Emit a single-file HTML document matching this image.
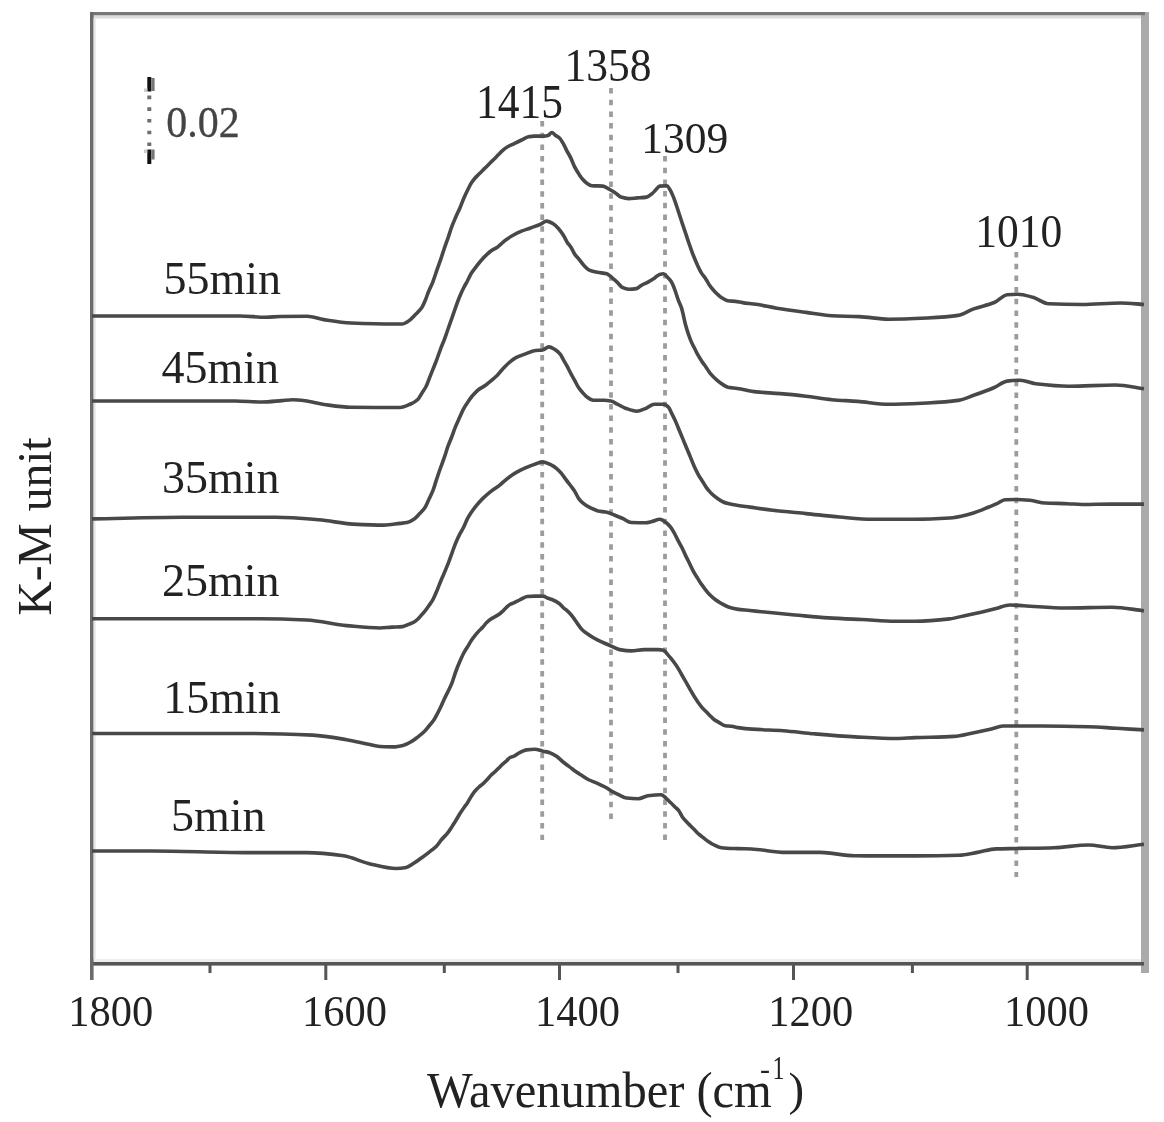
<!DOCTYPE html><html><head><meta charset="utf-8"><style>html,body{margin:0;padding:0;background:#fff;}svg{display:block;}text{font-family:"Liberation Serif",serif;stroke-width:0px;}svg{will-change:transform;}</style></head><body>
<svg width="1164" height="1122" viewBox="0 0 1164 1122">
<rect width="1164" height="1122" fill="#fff"/>
<rect x="1141" y="12" width="8" height="961" fill="#aaa"/>
<rect x="90" y="15" width="1051" height="3.5" fill="#ddd"/>
<rect x="90" y="12" width="1055" height="3.2" fill="#777"/>
<rect x="93" y="959" width="1048" height="3" fill="#eee"/>
<rect x="90" y="962" width="1054" height="3.6" fill="#555"/>
<rect x="90" y="12" width="3.6" height="968" fill="#6b6b6b"/>
<rect x="93.6" y="18" width="2" height="941" fill="#e4e4e4"/>
<rect x="324.3" y="964" width="3" height="16" fill="#555"/>
<rect x="558.0" y="964" width="3" height="16" fill="#555"/>
<rect x="792.0" y="964" width="3" height="16" fill="#555"/>
<rect x="1025.7" y="964" width="3" height="16" fill="#555"/>
<rect x="208.5" y="964" width="3" height="9" fill="#555"/>
<rect x="442.8" y="964" width="3" height="9" fill="#555"/>
<rect x="676.5" y="964" width="3" height="9" fill="#555"/>
<rect x="910.9" y="964" width="3" height="9" fill="#555"/>
<line x1="542.2" y1="121" x2="542.2" y2="840" stroke="#9c9c9c" stroke-width="3.8" stroke-dasharray="5.5,6.2"/>
<line x1="611.0" y1="88" x2="611.0" y2="821" stroke="#9c9c9c" stroke-width="3.8" stroke-dasharray="5.5,6.2"/>
<line x1="665.0" y1="156" x2="665.0" y2="843" stroke="#9c9c9c" stroke-width="3.8" stroke-dasharray="5.5,6.2"/>
<line x1="1016.3" y1="252" x2="1016.3" y2="877" stroke="#9c9c9c" stroke-width="3.8" stroke-dasharray="5.5,6.2"/>
<line x1="149.3" y1="95.6" x2="149.3" y2="148" stroke="#6e6e6e" stroke-width="4" stroke-dasharray="3.6,8.1"/>
<rect x="147.3" y="77" width="4" height="14.5" fill="#111"/>
<rect x="151.3" y="78" width="3.3" height="13" fill="#777"/>
<rect x="144" y="88.5" width="3.3" height="3.5" fill="#ccc"/>
<rect x="147.3" y="149.5" width="4" height="14.5" fill="#111"/>
<rect x="151.3" y="149.5" width="3.3" height="10" fill="#777"/>
<rect x="144" y="149.5" width="3.3" height="3.5" fill="#ccc"/>
<path d="M92.0,316.0 C141.3,316.0 190.7,316.0 240.0,316.0 C248.7,316.0 257.3,317.3 266.0,317.3 C270.7,317.3 275.3,316.6 280.0,316.5 C289.0,316.3 298.0,316.2 307.0,316.2 C312.6,316.2 318.1,318.7 323.7,319.6 C332.8,321.0 341.9,322.6 351.0,323.0 C365.7,323.6 380.3,324.0 395.0,324.0 C397.3,324.0 399.7,324.0 402.0,324.0 C404.7,324.0 407.4,321.8 410.1,319.9 C411.4,319.0 412.8,317.2 414.1,315.9 C415.5,314.5 416.8,313.3 418.2,311.8 C419.4,310.6 420.5,309.5 421.7,307.8 C422.8,306.1 424.0,303.4 425.1,300.8 C426.3,298.1 427.4,294.3 428.6,291.5 C430.0,288.2 431.3,285.8 432.7,282.3 C434.0,278.9 435.4,274.5 436.7,270.7 C438.1,266.8 439.4,263.1 440.8,259.1 C441.9,255.8 443.1,252.0 444.2,248.7 C445.6,244.7 446.9,241.1 448.3,237.1 C449.5,233.7 450.6,229.8 451.8,226.7 C453.1,223.1 454.5,220.1 455.8,217.0 C457.1,213.9 458.5,211.3 459.8,208.2 C461.0,205.3 462.3,201.9 463.5,199.0 C464.8,196.0 466.1,193.1 467.4,190.5 C468.7,187.9 470.0,185.1 471.3,183.1 C472.6,181.1 473.8,179.5 475.1,178.0 C476.4,176.5 477.7,175.4 479.0,174.1 C480.3,172.8 481.6,171.6 482.9,170.3 C484.2,169.0 485.4,167.7 486.7,166.4 C488.0,165.1 489.3,163.8 490.6,162.5 C491.9,161.2 493.2,160.0 494.5,158.7 C495.8,157.4 497.0,156.1 498.3,154.8 C499.6,153.5 500.9,152.1 502.2,150.9 C503.5,149.7 504.8,148.5 506.1,147.7 C508.7,146.0 511.2,145.1 513.8,143.8 C516.4,142.5 518.9,141.2 521.5,140.0 C523.9,138.9 526.2,137.3 528.6,136.8 C530.3,136.5 532.1,136.1 533.8,136.1 C537.2,136.1 540.7,136.1 544.1,136.1 C545.4,136.1 546.7,135.8 548.0,135.5 C549.3,135.2 550.5,132.5 551.8,132.5 C553.1,132.5 554.4,134.6 555.7,135.5 C557.0,136.4 558.2,136.8 559.5,138.0 C560.8,139.2 562.1,141.6 563.4,143.8 C564.5,145.6 565.5,148.2 566.6,150.3 C567.9,152.8 569.2,154.8 570.5,157.4 C571.8,160.0 573.1,163.8 574.4,166.4 C575.9,169.4 577.4,171.8 578.9,174.1 C580.2,176.0 581.4,177.9 582.7,179.3 C584.0,180.8 585.3,182.2 586.6,183.1 C588.3,184.3 590.1,185.6 591.8,185.7 C595.5,186.0 599.2,185.8 602.9,186.1 C605.0,186.3 607.2,188.1 609.3,189.3 C611.5,190.5 613.6,191.7 615.8,193.2 C617.5,194.3 619.2,196.6 620.9,197.1 C623.5,197.9 626.1,198.6 628.7,198.6 C631.7,198.6 634.7,198.1 637.7,197.9 C640.7,197.7 643.7,197.6 646.7,197.1 C648.4,196.8 650.2,195.2 651.9,193.8 C653.2,192.8 654.4,191.3 655.7,190.0 C657.0,188.7 658.3,186.3 659.6,186.1 C662.0,185.8 664.3,185.7 666.7,185.7 C668.0,185.7 669.2,188.5 670.5,190.6 C671.8,192.7 673.1,196.2 674.4,199.6 C675.7,203.0 677.0,207.3 678.3,211.2 C679.6,215.0 680.8,219.0 682.1,222.8 C683.4,226.7 684.7,230.5 686.0,234.4 C687.3,238.3 688.6,242.3 689.9,246.0 C691.2,249.6 692.4,253.1 693.7,256.3 C695.0,259.6 696.3,262.6 697.6,265.4 C698.9,268.2 700.2,271.0 701.5,273.1 C702.8,275.1 704.0,276.3 705.3,278.2 C706.6,280.1 707.9,282.8 709.2,284.7 C710.5,286.6 711.8,288.3 713.1,289.8 C714.4,291.3 715.6,292.5 716.9,293.7 C718.4,295.1 719.9,296.6 721.4,297.6 C723.6,299.0 725.7,300.5 727.9,300.8 C730.5,301.2 733.0,301.1 735.6,301.4 C737.9,301.6 740.2,302.3 742.5,302.6 C747.1,303.3 751.6,303.6 756.2,304.3 C763.1,305.3 769.9,307.1 776.8,308.2 C786.5,309.8 796.3,311.1 806.0,312.4 C814.6,313.6 823.2,315.4 831.8,315.8 C841.0,316.2 850.1,316.2 859.3,316.6 C869.1,317.0 878.9,319.2 888.7,319.2 C901.6,319.2 914.4,318.6 927.3,318.0 C937.6,317.5 947.9,317.0 958.2,315.4 C963.4,314.6 968.5,310.8 973.7,308.9 C980.6,306.4 987.4,305.4 994.3,302.5 C998.6,300.7 1002.9,295.1 1007.2,294.7 C1010.6,294.4 1014.1,294.2 1017.5,294.2 C1022.7,294.2 1027.8,295.9 1033.0,297.3 C1038.2,298.7 1043.3,303.6 1048.5,303.8 C1059.7,304.3 1070.8,304.5 1082.0,304.5 C1094.9,304.5 1107.7,303.0 1120.6,303.0 C1128.4,303.0 1136.2,304.0 1144.0,304.5" fill="none" stroke="#484848" stroke-width="3.6" stroke-linejoin="round" stroke-linecap="butt"/>
<path d="M92.0,401.0 C139.7,401.0 187.3,401.0 235.0,401.0 C244.0,401.0 253.0,402.0 262.0,402.0 C268.7,402.0 275.3,401.1 282.0,400.6 C285.7,400.3 289.3,399.8 293.0,399.8 C297.0,399.8 301.0,400.3 305.0,400.8 C311.3,401.5 317.7,403.6 324.0,404.5 C333.0,405.7 342.0,407.2 351.0,407.3 C367.3,407.4 383.7,407.5 400.0,407.5 C403.6,407.5 407.1,405.6 410.7,404.0 C413.1,403.0 415.4,401.7 417.8,399.5 C419.3,398.1 420.8,394.7 422.3,392.4 C423.5,390.6 424.6,389.2 425.8,387.0 C427.0,384.7 428.2,381.1 429.4,378.1 C430.6,375.1 431.8,372.2 433.0,369.2 C434.2,366.3 435.3,363.4 436.5,360.3 C438.0,356.3 439.5,351.7 441.0,347.8 C442.2,344.7 443.4,342.1 444.6,338.9 C445.6,336.1 446.7,332.9 447.7,330.0 C449.1,326.1 450.4,322.3 451.8,318.4 C453.1,314.6 454.5,310.5 455.8,306.8 C457.1,303.1 458.5,299.5 459.8,296.3 C461.1,293.2 462.4,290.4 463.7,287.8 C464.9,285.3 466.2,283.3 467.4,281.0 C468.7,278.5 470.0,275.4 471.3,273.3 C472.6,271.3 473.8,269.8 475.1,268.1 C476.4,266.4 477.7,264.6 479.0,263.0 C480.3,261.4 481.6,259.9 482.9,258.5 C484.2,257.1 485.4,255.8 486.7,254.6 C488.2,253.2 489.7,251.8 491.2,250.7 C493.4,249.2 495.5,248.4 497.7,246.9 C499.2,245.8 500.7,244.3 502.2,243.0 C503.5,241.9 504.8,240.7 506.1,239.8 C508.4,238.1 510.8,236.6 513.1,235.3 C515.7,233.8 518.3,232.5 520.9,231.4 C523.9,230.1 526.9,229.3 529.9,228.2 C533.3,226.9 536.8,225.8 540.2,224.3 C542.3,223.4 544.5,221.1 546.6,221.1 C548.8,221.1 550.9,222.5 553.1,223.7 C554.8,224.7 556.5,226.4 558.2,228.2 C559.9,230.1 561.7,232.6 563.4,235.3 C564.7,237.3 566.0,240.4 567.3,242.4 C568.6,244.4 569.8,245.5 571.1,247.5 C572.4,249.5 573.7,252.8 575.0,254.6 C576.3,256.4 577.6,257.5 578.9,259.1 C580.6,261.2 582.3,263.8 584.0,265.6 C585.7,267.4 587.5,269.4 589.2,270.1 C591.9,271.3 594.6,271.8 597.3,272.3 C600.5,272.9 603.6,272.9 606.8,273.7 C608.5,274.2 610.2,276.2 611.9,277.6 C613.6,279.0 615.4,280.5 617.1,282.1 C618.8,283.7 620.5,286.5 622.2,287.3 C624.4,288.3 626.5,289.2 628.7,289.2 C631.3,289.2 633.8,289.0 636.4,288.6 C638.1,288.4 639.8,286.3 641.5,285.3 C643.7,284.1 645.8,283.3 648.0,282.1 C650.1,280.9 652.3,279.6 654.4,278.2 C656.1,277.0 657.9,274.9 659.6,274.4 C660.9,274.0 662.2,273.7 663.5,273.7 C664.8,273.7 666.0,275.7 667.3,277.0 C668.6,278.3 669.9,279.5 671.2,281.5 C672.3,283.1 673.3,285.9 674.4,288.6 C675.7,291.9 677.0,296.8 678.3,300.2 C679.4,303.0 680.4,304.7 681.5,307.9 C682.9,312.2 684.4,320.8 685.8,325.8 C687.6,332.0 689.4,337.4 691.2,341.6 C692.3,344.1 693.3,345.9 694.4,348.0 C695.5,350.1 696.5,352.5 697.6,354.4 C698.9,356.8 700.3,358.9 701.6,360.9 C702.9,362.9 704.3,364.6 705.6,366.5 C707.2,368.8 708.8,371.8 710.4,373.7 C712.6,376.3 714.7,378.3 716.9,380.1 C719.0,381.9 721.2,383.6 723.3,384.9 C724.9,385.9 726.5,386.9 728.1,387.3 C731.2,388.0 734.2,388.0 737.3,388.5 C743.6,389.4 749.9,391.3 756.2,391.9 C764.2,392.7 772.3,392.9 780.3,393.6 C788.9,394.3 797.4,395.2 806.0,396.2 C814.6,397.2 823.2,398.9 831.8,399.7 C840.4,400.5 849.0,400.7 857.6,401.4 C868.0,402.2 878.3,404.3 888.7,404.3 C901.6,404.3 914.4,403.6 927.3,403.0 C937.6,402.5 947.9,401.9 958.2,400.4 C963.4,399.7 968.5,397.1 973.7,395.3 C980.6,392.9 987.4,390.5 994.3,387.5 C998.6,385.6 1002.9,381.6 1007.2,381.1 C1011.5,380.6 1015.8,380.3 1020.1,380.3 C1025.3,380.3 1030.4,383.1 1035.6,383.7 C1046.7,385.0 1057.9,386.2 1069.0,386.2 C1084.5,386.2 1100.0,385.0 1115.5,385.0 C1125.0,385.0 1134.5,387.5 1144.0,388.8" fill="none" stroke="#484848" stroke-width="3.6" stroke-linejoin="round" stroke-linecap="butt"/>
<path d="M92.0,518.9 C122.3,518.4 152.5,517.3 182.8,517.3 C213.7,517.3 244.7,517.3 275.6,517.3 C290.0,517.3 304.5,518.6 318.9,519.8 C330.2,520.7 341.6,523.5 352.9,524.1 C363.2,524.6 373.5,525.1 383.8,525.1 C389.2,525.1 394.6,524.0 400.0,523.4 C402.4,523.1 404.7,523.0 407.1,522.5 C409.5,522.0 411.9,520.5 414.3,518.9 C416.1,517.7 417.8,515.5 419.6,513.6 C421.4,511.7 423.2,510.1 425.0,507.4 C426.2,505.6 427.3,502.7 428.5,500.2 C430.0,497.0 431.5,494.2 433.0,490.4 C434.2,487.4 435.3,483.2 436.5,479.7 C437.7,476.1 438.9,472.4 440.1,469.0 C441.6,464.7 443.1,461.0 444.6,456.6 C445.8,453.2 446.9,449.1 448.1,445.9 C449.3,442.6 450.5,440.1 451.7,437.0 C452.9,433.9 454.1,430.1 455.3,427.1 C456.8,423.5 458.2,420.6 459.7,417.3 C460.9,414.6 462.1,411.6 463.3,409.3 C464.8,406.5 466.2,404.4 467.7,402.2 C469.2,400.0 470.7,397.8 472.2,396.0 C474.3,393.6 476.3,391.3 478.4,389.7 C480.8,387.9 483.2,387.0 485.6,385.3 C487.4,384.0 489.1,382.3 490.9,380.8 C493.0,379.0 495.0,377.5 497.1,375.5 C498.9,373.7 500.7,371.1 502.5,369.2 C504.6,367.0 506.6,364.8 508.7,363.0 C511.1,360.9 513.5,358.9 515.9,357.6 C518.9,356.1 521.8,355.2 524.8,354.1 C528.4,352.8 531.9,350.9 535.5,350.5 C537.9,350.2 540.2,350.3 542.6,350.0 C544.7,349.7 546.7,346.9 548.8,346.9 C550.9,346.9 553.0,348.4 555.1,349.6 C556.9,350.6 558.6,352.2 560.4,354.4 C561.5,355.7 562.5,358.2 563.6,360.1 C564.7,362.0 565.7,363.7 566.8,365.7 C568.2,368.2 569.5,371.1 570.9,373.7 C572.2,376.2 573.6,378.5 574.9,380.9 C576.2,383.3 577.6,386.2 578.9,388.1 C580.2,390.0 581.6,391.4 582.9,392.9 C584.2,394.4 585.6,396.1 586.9,397.0 C589.0,398.5 591.2,400.2 593.3,400.2 C597.0,400.2 600.8,400.2 604.5,400.2 C606.7,400.2 608.8,400.6 611.0,401.0 C613.1,401.4 615.3,403.1 617.4,404.2 C620.1,405.5 622.7,407.3 625.4,408.2 C629.1,409.5 632.9,411.2 636.6,411.2 C639.8,411.2 643.1,409.4 646.3,408.2 C649.0,407.2 651.6,404.2 654.3,404.2 C657.5,404.2 660.7,404.2 663.9,404.2 C665.5,404.2 667.1,405.7 668.7,407.4 C669.8,408.5 670.8,411.7 671.9,413.8 C673.0,415.9 674.0,417.9 675.1,420.2 C676.2,422.6 677.3,425.5 678.4,428.2 C679.7,431.4 681.1,434.7 682.4,437.9 C683.7,441.1 685.1,444.3 686.4,447.5 C687.7,450.7 689.1,453.9 690.4,457.1 C691.7,460.3 693.1,463.8 694.4,466.7 C695.7,469.6 697.1,472.4 698.4,474.8 C699.7,477.2 701.1,479.1 702.4,481.2 C703.7,483.3 705.1,485.8 706.4,487.6 C707.7,489.4 709.1,491.0 710.4,492.4 C712.6,494.6 714.7,496.4 716.9,498.0 C719.0,499.5 721.2,501.1 723.3,502.0 C724.9,502.7 726.5,503.2 728.1,503.6 C730.6,504.2 733.0,504.6 735.5,505.0 C740.3,505.8 745.0,506.4 749.8,507.1 C757.4,508.2 764.9,509.4 772.5,510.3 C783.7,511.6 794.8,512.5 806.0,513.6 C817.1,514.7 828.3,516.1 839.4,517.0 C850.5,517.9 861.7,519.2 872.8,519.2 C886.8,519.2 900.8,519.2 914.8,519.2 C926.4,519.2 938.0,518.7 949.6,518.0 C955.8,517.6 961.9,516.0 968.1,514.5 C972.8,513.4 977.4,511.7 982.1,509.9 C984.3,509.1 986.6,507.9 988.8,507.0 C991.7,505.8 994.6,504.7 997.5,503.4 C999.9,502.3 1002.4,499.8 1004.8,499.7 C1008.7,499.6 1012.6,499.5 1016.5,499.5 C1021.0,499.5 1025.5,499.9 1030.0,500.3 C1035.0,500.7 1040.0,502.7 1045.0,503.0 C1052.5,503.4 1060.1,503.4 1067.6,503.7 C1072.5,503.9 1077.3,504.5 1082.2,504.5 C1091.9,504.5 1101.7,504.1 1111.4,504.1 C1122.3,504.1 1133.1,504.1 1144.0,504.1" fill="none" stroke="#484848" stroke-width="3.6" stroke-linejoin="round" stroke-linecap="butt"/>
<path d="M92.0,618.8 C148.0,618.8 204.1,618.8 260.1,618.8 C275.6,618.8 291.0,619.3 306.5,620.0 C319.9,620.6 333.3,624.3 346.7,625.6 C357.8,626.6 368.9,628.0 380.0,628.0 C383.9,628.0 387.9,627.3 391.8,627.1 C395.4,626.9 398.9,626.9 402.5,626.6 C404.8,626.4 407.1,625.0 409.4,624.1 C410.9,623.5 412.3,623.0 413.8,622.2 C415.3,621.4 416.7,620.1 418.2,618.7 C419.4,617.6 420.5,616.1 421.7,614.8 C422.8,613.5 424.0,612.3 425.1,610.9 C426.4,609.3 427.7,607.4 429.0,605.5 C430.3,603.6 431.6,601.9 432.9,599.6 C434.2,597.2 435.6,593.9 436.9,590.8 C438.2,587.7 439.5,584.1 440.8,581.0 C441.9,578.3 443.1,575.8 444.2,573.1 C445.7,569.6 447.1,566.2 448.6,562.4 C449.9,559.0 451.2,555.1 452.5,551.6 C453.7,548.4 454.8,545.1 456.0,542.3 C457.3,539.2 458.6,536.4 459.9,533.9 C461.1,531.6 462.3,529.9 463.5,527.5 C464.9,524.7 466.3,520.6 467.7,518.1 C470.1,513.7 472.5,510.5 474.9,507.4 C477.6,504.0 480.2,501.0 482.9,498.4 C485.6,495.8 488.2,493.4 490.9,491.3 C493.9,489.0 496.8,487.4 499.8,485.1 C502.2,483.2 504.6,480.7 507.0,478.8 C510.0,476.5 512.9,474.3 515.9,472.6 C518.9,470.9 521.8,469.4 524.8,468.1 C527.8,466.8 530.7,465.6 533.7,464.6 C536.7,463.6 539.6,461.9 542.6,461.9 C545.6,461.9 548.5,463.8 551.5,465.2 C553.1,466.0 554.8,467.0 556.4,468.3 C558.0,469.6 559.6,471.3 561.2,473.2 C562.8,475.1 564.4,477.5 566.0,479.6 C567.6,481.8 569.3,483.8 570.9,486.0 C572.2,487.8 573.6,489.5 574.9,491.6 C576.2,493.7 577.6,497.1 578.9,498.8 C580.5,500.9 582.1,502.3 583.7,503.6 C585.8,505.3 588.0,506.6 590.1,507.7 C592.8,509.0 595.4,510.3 598.1,510.9 C600.6,511.5 603.2,511.6 605.7,512.1 C608.6,512.7 611.4,513.9 614.3,515.0 C617.1,516.1 620.0,517.3 622.8,518.5 C625.7,519.8 628.5,522.4 631.4,522.5 C636.1,522.7 640.9,522.8 645.6,522.8 C647.7,522.8 649.9,522.0 652.0,521.5 C654.6,520.9 657.3,519.2 659.9,519.2 C662.0,519.2 664.2,521.2 666.3,522.8 C667.7,523.9 669.2,525.3 670.6,527.1 C671.8,528.6 673.0,530.7 674.2,532.8 C675.4,534.9 676.5,537.6 677.7,539.9 C679.1,542.7 680.6,544.9 682.0,547.8 C683.2,550.2 684.4,553.1 685.6,555.6 C686.8,558.1 688.0,560.3 689.2,562.7 C690.6,565.5 692.0,568.7 693.4,571.3 C694.8,573.9 696.3,576.1 697.7,578.4 C698.9,580.3 700.1,582.4 701.3,584.1 C702.7,586.2 704.2,588.0 705.6,589.8 C707.0,591.6 708.4,593.4 709.8,594.8 C711.7,596.7 713.6,598.4 715.5,599.8 C717.4,601.2 719.4,602.3 721.3,603.4 C723.7,604.7 726.0,606.2 728.4,607.0 C731.3,608.0 734.1,608.7 737.0,609.1 C741.3,609.8 745.5,610.0 749.8,610.5 C753.7,610.9 757.5,611.3 761.4,611.7 C772.5,612.8 783.7,614.0 794.8,615.0 C806.0,616.0 817.1,617.2 828.3,617.9 C839.4,618.6 850.6,619.0 861.7,619.5 C872.8,620.0 884.0,621.2 895.1,621.2 C901.7,621.2 908.2,621.2 914.8,621.2 C926.4,621.2 938.0,620.2 949.6,618.9 C955.0,618.3 960.4,616.6 965.8,615.4 C971.2,614.2 976.7,613.1 982.1,611.9 C986.7,610.8 991.4,609.6 996.0,608.5 C1000.6,607.4 1005.3,605.0 1009.9,605.0 C1014.5,605.0 1019.2,605.5 1023.8,605.7 C1037.7,606.4 1051.7,608.0 1065.6,608.0 C1081.1,608.0 1096.5,607.3 1112.0,607.3 C1122.7,607.3 1133.3,609.6 1144.0,610.8" fill="none" stroke="#484848" stroke-width="3.6" stroke-linejoin="round" stroke-linecap="butt"/>
<path d="M92.0,733.5 C142.9,733.5 193.8,733.5 244.7,733.5 C267.4,733.5 290.0,734.1 312.7,735.1 C324.0,735.6 335.4,737.8 346.7,739.7 C353.9,740.9 361.2,742.9 368.4,744.3 C372.3,745.1 376.1,746.3 380.0,746.5 C384.5,746.7 388.9,746.9 393.4,746.9 C397.0,746.9 400.5,746.0 404.1,745.1 C406.8,744.4 409.4,742.7 412.1,741.1 C414.2,739.9 416.2,738.2 418.3,736.6 C420.4,735.0 422.5,733.4 424.6,731.3 C426.1,729.8 427.5,727.8 429.0,726.0 C430.5,724.2 432.0,722.8 433.5,720.6 C434.7,718.9 435.8,716.6 437.0,714.4 C438.2,712.1 439.4,709.7 440.6,707.2 C441.8,704.7 443.0,701.7 444.2,699.2 C445.4,696.7 446.5,694.5 447.7,692.1 C449.1,689.2 450.5,686.6 451.9,683.1 C453.2,679.9 454.5,675.0 455.8,671.5 C457.1,668.0 458.4,664.8 459.7,661.8 C461.0,658.9 462.2,655.9 463.5,653.5 C464.8,651.0 466.1,649.1 467.4,647.0 C468.7,644.9 470.0,642.5 471.3,640.6 C472.6,638.7 473.8,637.0 475.1,635.4 C476.4,633.8 477.7,632.3 479.0,630.9 C480.3,629.5 481.6,628.4 482.9,627.0 C484.2,625.6 485.4,623.7 486.7,622.5 C488.0,621.2 489.3,620.2 490.6,619.3 C491.9,618.4 493.2,617.8 494.5,617.0 C495.8,616.3 497.0,615.7 498.3,614.8 C499.6,613.9 500.9,612.8 502.2,611.6 C503.5,610.4 504.8,608.9 506.1,607.7 C507.4,606.5 508.6,605.2 509.9,604.5 C511.2,603.8 512.5,603.4 513.8,602.8 C515.7,601.9 517.7,600.9 519.6,600.0 C522.2,598.8 524.7,596.7 527.3,596.5 C529.9,596.3 532.5,596.1 535.1,596.1 C537.7,596.1 540.2,596.1 542.8,596.1 C544.5,596.1 546.2,597.6 547.9,598.2 C549.6,598.9 551.4,599.2 553.1,600.0 C555.2,600.9 557.4,602.2 559.5,603.8 C560.8,604.8 562.1,606.5 563.4,607.7 C564.7,608.9 566.0,609.7 567.3,610.9 C568.6,612.1 569.8,613.3 571.1,614.8 C572.4,616.3 573.7,618.2 575.0,620.0 C576.3,621.8 577.6,624.0 578.9,625.7 C580.2,627.4 581.4,629.1 582.7,630.3 C584.0,631.5 585.3,632.3 586.6,633.2 C589.0,634.9 591.5,636.6 593.9,638.0 C596.5,639.5 599.0,640.7 601.6,641.9 C604.6,643.3 607.6,644.5 610.6,645.8 C613.6,647.1 616.6,649.1 619.6,649.6 C623.5,650.3 627.3,650.9 631.2,650.9 C635.5,650.9 639.8,649.6 644.1,649.6 C648.8,649.6 653.6,649.6 658.3,649.6 C660.0,649.6 661.8,649.9 663.5,650.3 C664.8,650.6 666.0,652.7 667.3,654.1 C668.6,655.5 669.9,657.1 671.2,658.7 C672.5,660.3 673.8,662.0 675.1,663.8 C676.4,665.6 677.6,667.5 678.9,669.6 C680.2,671.8 681.5,674.4 682.8,676.7 C684.1,678.9 685.3,680.9 686.6,683.1 C687.9,685.4 689.2,687.9 690.5,690.2 C691.8,692.5 693.1,694.6 694.4,696.7 C695.7,698.7 696.9,700.7 698.2,702.5 C699.5,704.3 700.8,706.1 702.1,707.6 C703.4,709.1 704.7,710.2 706.0,711.5 C707.3,712.8 708.5,714.1 709.8,715.4 C711.1,716.7 712.4,718.2 713.7,719.2 C715.4,720.5 717.2,721.4 718.9,722.4 C721.0,723.6 723.2,725.4 725.3,725.7 C727.5,726.0 729.6,726.0 731.8,726.3 C733.9,726.6 736.1,727.3 738.2,727.6 C742.9,728.3 747.5,728.8 752.2,729.1 C762.5,729.9 772.8,730.0 783.1,730.7 C793.4,731.4 803.7,732.9 814.0,733.8 C827.8,735.0 841.5,736.2 855.3,736.9 C869.0,737.6 882.8,738.5 896.5,738.5 C902.6,738.5 908.7,737.8 914.8,737.6 C927.9,737.1 941.1,737.2 954.2,736.4 C960.4,736.0 966.6,734.1 972.8,732.9 C979.0,731.7 985.1,730.4 991.3,729.0 C995.2,728.1 999.0,726.0 1002.9,726.0 C1016.1,726.0 1029.2,726.0 1042.4,726.0 C1057.9,726.0 1073.3,726.3 1088.8,726.7 C1098.1,726.9 1107.3,727.8 1116.6,728.3 C1125.7,728.8 1134.9,729.4 1144.0,729.9" fill="none" stroke="#484848" stroke-width="3.6" stroke-linejoin="round" stroke-linecap="butt"/>
<path d="M92.0,851.0 C112.0,851.0 131.9,851.0 151.9,851.0 C182.8,851.0 213.8,852.6 244.7,852.6 C265.3,852.6 285.9,852.6 306.5,852.6 C318.9,852.6 331.2,854.0 343.6,855.7 C351.9,856.8 360.1,861.5 368.4,863.4 C377.7,865.5 386.9,868.5 396.2,868.5 C399.5,868.5 402.9,868.1 406.2,867.5 C408.7,867.1 411.2,864.9 413.7,863.3 C416.0,861.9 418.3,860.2 420.6,858.5 C423.4,856.5 426.1,854.5 428.9,852.3 C431.4,850.4 433.9,848.7 436.4,846.2 C438.0,844.6 439.6,841.9 441.2,840.0 C443.5,837.3 445.8,835.4 448.1,832.4 C449.5,830.6 450.8,828.3 452.2,826.2 C453.4,824.4 454.5,822.6 455.7,820.7 C457.1,818.5 458.4,816.0 459.8,813.8 C461.2,811.6 462.5,809.6 463.9,807.7 C465.1,806.0 466.2,804.7 467.4,802.9 C468.8,800.8 470.1,798.1 471.5,796.0 C472.6,794.3 473.8,792.6 474.9,791.2 C476.3,789.6 477.6,788.2 479.0,787.0 C480.4,785.7 481.8,784.9 483.2,783.6 C484.6,782.4 485.9,781.0 487.3,779.5 C488.4,778.3 489.6,776.5 490.7,775.4 C492.1,774.0 493.4,773.1 494.8,771.9 C496.2,770.6 497.6,769.2 499.0,767.8 C500.1,766.7 501.3,765.4 502.4,764.4 C503.8,763.1 505.1,762.1 506.5,760.9 C507.7,759.8 508.8,758.1 510.0,757.5 C511.4,756.8 512.7,756.7 514.1,756.1 C515.9,755.3 517.8,753.6 519.6,752.7 C521.9,751.6 524.2,750.2 526.5,749.9 C529.2,749.5 532.0,749.2 534.7,749.2 C537.5,749.2 540.2,750.6 543.0,751.2 C545.3,751.7 547.5,752.0 549.8,752.7 C552.0,753.4 554.3,754.8 556.5,756.3 C558.7,757.8 560.9,760.2 563.1,762.0 C565.3,763.7 567.4,765.3 569.6,766.9 C571.8,768.5 573.9,770.3 576.1,771.8 C578.3,773.3 580.4,774.5 582.6,775.9 C584.8,777.3 587.0,778.9 589.2,780.0 C591.9,781.3 594.6,782.1 597.3,783.3 C600.0,784.5 602.8,785.8 605.5,787.3 C607.7,788.5 609.8,790.2 612.0,791.4 C614.2,792.6 616.4,793.7 618.6,794.7 C621.3,795.9 624.0,797.7 626.7,798.0 C630.5,798.5 634.3,798.8 638.1,798.8 C641.4,798.8 644.7,796.2 648.0,795.8 C652.3,795.2 656.7,794.7 661.0,794.7 C662.9,794.7 664.8,797.2 666.7,798.8 C668.1,799.9 669.4,801.5 670.8,802.8 C672.2,804.1 673.5,805.5 674.9,806.9 C676.3,808.3 677.6,809.2 679.0,811.0 C680.1,812.4 681.1,815.2 682.2,816.7 C683.6,818.7 684.9,820.1 686.3,821.6 C687.7,823.1 689.0,824.3 690.4,825.7 C691.8,827.1 693.1,828.4 694.5,829.8 C695.8,831.1 697.2,832.7 698.5,833.9 C699.9,835.1 701.2,836.0 702.6,837.1 C704.0,838.2 705.3,839.4 706.7,840.4 C708.9,841.9 711.0,843.4 713.2,844.5 C715.9,845.8 718.7,847.4 721.4,847.7 C726.8,848.3 732.3,848.4 737.7,848.6 C742.3,848.8 746.9,848.8 751.5,849.0 C763.0,849.5 774.4,852.4 785.9,852.4 C797.4,852.4 808.8,852.4 820.3,852.4 C831.7,852.4 843.2,855.7 854.6,855.8 C863.1,855.9 871.5,855.9 880.0,855.9 C891.6,855.9 903.2,855.9 914.8,855.9 C929.5,855.9 944.2,855.7 958.9,855.2 C965.1,855.0 971.2,853.4 977.4,852.4 C983.6,851.4 989.8,849.1 996.0,848.9 C1003.7,848.6 1011.5,848.6 1019.2,848.4 C1030.8,848.2 1042.4,848.1 1054.0,847.7 C1065.6,847.3 1077.2,845.0 1088.8,845.0 C1096.5,845.0 1104.3,847.7 1112.0,847.7 C1122.7,847.7 1133.3,845.4 1144.0,844.3" fill="none" stroke="#484848" stroke-width="3.6" stroke-linejoin="round" stroke-linecap="butt"/>
<text transform="translate(110.7,1026.3) scale(1,1.040)" font-size="42.5" fill="#222" stroke="#222" text-anchor="middle">1800</text>
<text transform="translate(344.4,1026.3) scale(1,1.040)" font-size="42.5" fill="#222" stroke="#222" text-anchor="middle">1600</text>
<text transform="translate(577.5,1026.3) scale(1,1.040)" font-size="42.5" fill="#222" stroke="#222" text-anchor="middle">1400</text>
<text transform="translate(810.8,1026.3) scale(1,1.040)" font-size="42.5" fill="#222" stroke="#222" text-anchor="middle">1200</text>
<text transform="translate(1046.4,1026.3) scale(1,1.040)" font-size="42.5" fill="#222" stroke="#222" text-anchor="middle">1000</text>
<text transform="translate(222.3,294.2) scale(1,1.000)" font-size="46.0" fill="#222" stroke="#222" text-anchor="middle">55min</text>
<text transform="translate(220.2,382.6) scale(1,1.000)" font-size="46.0" fill="#222" stroke="#222" text-anchor="middle">45min</text>
<text transform="translate(220.7,492.6) scale(1,1.000)" font-size="46.0" fill="#222" stroke="#222" text-anchor="middle">35min</text>
<text transform="translate(220.7,596.2) scale(1,1.000)" font-size="46.0" fill="#222" stroke="#222" text-anchor="middle">25min</text>
<text transform="translate(222.0,713.0) scale(1,1.000)" font-size="46.0" fill="#222" stroke="#222" text-anchor="middle">15min</text>
<text transform="translate(218.3,831.0) scale(1,1.000)" font-size="46.0" fill="#222" stroke="#222" text-anchor="middle">5min</text>
<text transform="translate(519.4,117.5) scale(1,1.100)" font-size="43.5" fill="#222" stroke="#222" text-anchor="middle">1415</text>
<text transform="translate(607.9,80.5) scale(1,1.060)" font-size="43.5" fill="#222" stroke="#222" text-anchor="middle">1358</text>
<text transform="translate(684.8,152.5) scale(1,1.040)" font-size="43.5" fill="#222" stroke="#222" text-anchor="middle">1309</text>
<text transform="translate(1018.8,247.0) scale(1,1.050)" font-size="43.5" fill="#222" stroke="#222" text-anchor="middle">1010</text>
<text transform="translate(202.9,137.3) scale(1,1.07)" font-size="42" fill="#444" stroke="#444" style="stroke-width:0.3px" text-anchor="middle">0.02</text>
<text transform="translate(51,526.5) rotate(-90)" font-size="47.5" fill="#222" stroke="#222" text-anchor="middle">K-M unit</text>
<text transform="translate(427,1106.5) scale(1,1.05)" font-size="48.5" fill="#222" stroke="#222">Wavenumber (cm</text>
<text x="760" y="1079" font-size="30" fill="#222" stroke="#222">-</text>
<text transform="translate(772.5,1079) scale(0.8,1.1)" font-size="30" fill="#222" stroke="#222">1</text>
<text x="788.5" y="1105" font-size="47" fill="#222" stroke="#222">)</text>
</svg></body></html>
